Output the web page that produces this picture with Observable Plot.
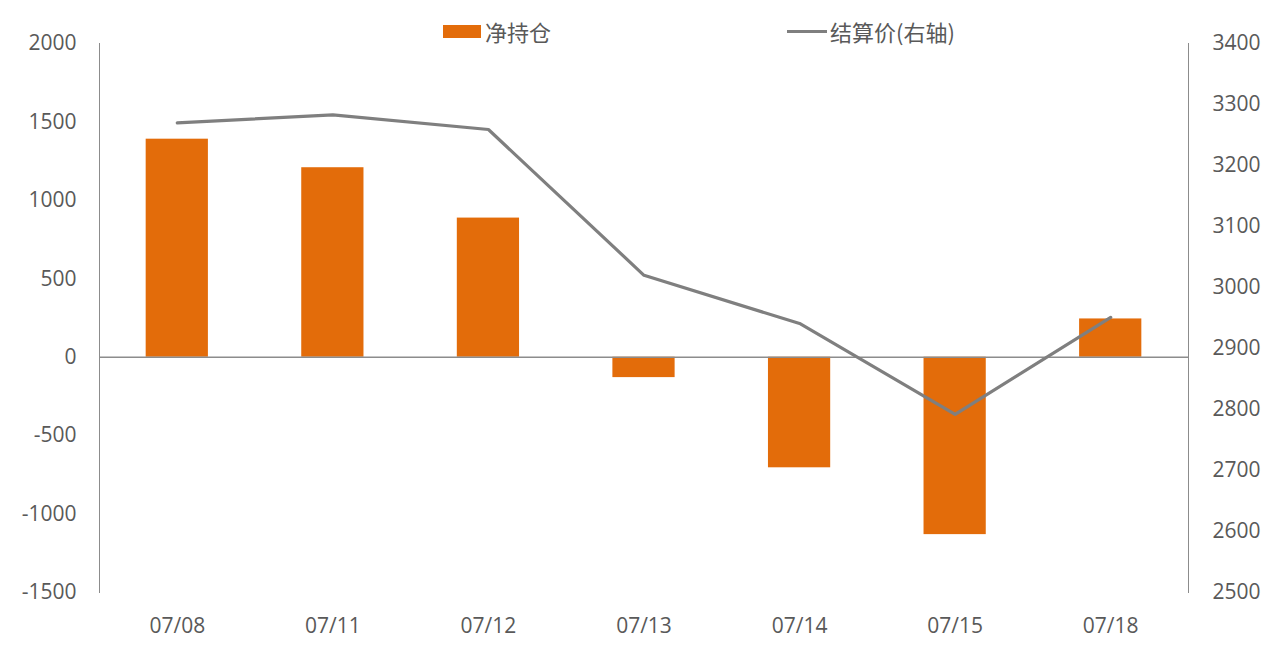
<!DOCTYPE html>
<html>
<head>
<meta charset="utf-8">
<script src="https://cdn.jsdelivr.net/npm/d3@7"></script>
<script src="https://cdn.jsdelivr.net/npm/@observablehq/plot@0.6"></script>
<style>
  body { margin: 0; background: #fff; font-family: 'Open Sans', 'Noto Sans CJK SC', sans-serif; }
  #wrap { position: relative; width: 1280px; height: 653px; }
  #legend { position: absolute; top: 17px; left: 0; width: 1280px; height: 28px; font-size: 22px; color: #595959; font-family: 'Noto Sans CJK SC', 'Open Sans', sans-serif; }
  .item { position: absolute; display: flex; align-items: center; height: 28px; }
  .sw { display: inline-block; width: 38px; height: 13px; background: #E36C0A; margin-right: 4px; }
  .ln { display: inline-block; width: 40px; height: 3px; background: #7F7F7F; margin-right: 3px; }
</style>
</head>
<body>
<div id="wrap">
  <div id="legend">
    <div class="item" style="left:443px"><span class="sw"></span><span>净持仓</span></div>
    <div class="item" style="left:787px"><span class="ln"></span><span>结算价(右轴)</span></div>
  </div>
  <div id="chart"></div>
</div>
<script>
const dates = ["07/08", "07/11", "07/12", "07/13", "07/14", "07/15", "07/18"];
const netPosition = [1390, 1208, 887, -130, -705, -1131, 244];
const settlePrice = [3270, 3283, 3259, 3020, 2941, 2792, 2951];
const leftTicks = [-1500, -1000, -500, 0, 500, 1000, 1500, 2000];
const rightTicks = [2500, 2600, 2700, 2800, 2900, 3000, 3100, 3200, 3300, 3400];

const leftDomain = [-1500, 2000];
const rightDomain = [2500, 3400];
const toLeft = v => leftDomain[0] + (v - rightDomain[0]) * (leftDomain[1] - leftDomain[0]) / (rightDomain[1] - rightDomain[0]);
const fromLeft = v => Math.round(rightDomain[0] + (v - leftDomain[0]) * (rightDomain[1] - rightDomain[0]) / (leftDomain[1] - leftDomain[0]));

const data = dates.map((d, i) => ({date: d, net: netPosition[i], price: settlePrice[i]}));

const chart = Plot.plot({
  width: 1280,
  height: 653,
  marginTop: 43,
  marginBottom: 61,
  marginLeft: 99,
  marginRight: 92,
  style: {fontFamily: "'Open Sans', 'Noto Sans CJK SC', sans-serif", fontSize: "21px", color: "#595959", background: "transparent"},
  x: {domain: dates, paddingInner: 0.6, paddingOuter: 0.3, round: false, label: null},
  y: {domain: leftDomain, label: null},
  marks: [
    Plot.frame({anchor: "left", stroke: "#8c8c8c", strokeWidth: 1}),
    Plot.frame({anchor: "right", stroke: "#8c8c8c", strokeWidth: 1}),
    Plot.barY(data, {x: "date", y: "net", fill: "#E36C0A"}),
    Plot.ruleY([0], {stroke: "#8c8c8c", strokeWidth: 1.5}),
    Plot.lineY(data, {x: "date", y: d => toLeft(d.price), stroke: "#7F7F7F", strokeWidth: 3.2}),
    Plot.axisY(leftTicks, {anchor: "left", tickSize: 0, tickPadding: 23, label: null, tickFormat: d => String(d), fill: "#595959"}),
    Plot.axisY(rightTicks.map(toLeft), {anchor: "right", tickSize: 0, tickPadding: 24, label: null, tickFormat: d => String(fromLeft(d)), fill: "#595959"}),
    Plot.axisX({anchor: "bottom", tickSize: 0, tickPadding: 26, label: null, fill: "#595959"})
  ]
});
document.getElementById("chart").appendChild(chart);
</script>
</body>
</html>
